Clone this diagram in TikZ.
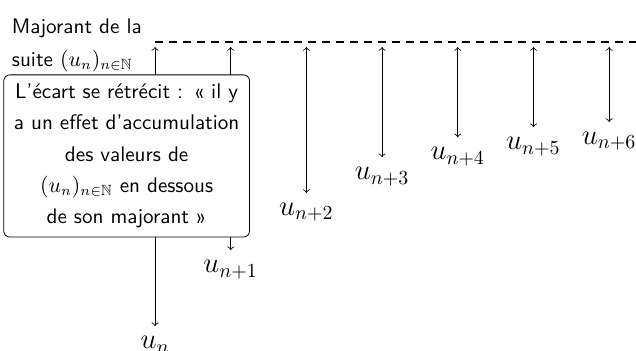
\documentclass[tikz,border=0pt]{standalone}
\usepackage{amsmath,amssymb}
\usepackage{pgf,tikz}
\usetikzlibrary{arrows}

\begin{document}
\begin{tikzpicture}[line cap=round,line join=round,>=to,x=1.0cm,y=1.0cm,
    borne/.style={line width=0.8pt,line cap=butt,dash pattern=on 4pt off 3pt},
    ecart/.style={draw,fill=white,rounded corners=3pt,align=center,
      font=\sffamily\fontsize{10.6}{15.75}\selectfont,
      minimum width=4.32cm,minimum height=2.86cm,text width=4.1cm},
    terme/.style={inner sep=1pt,font=\Large}]
    \useasboundingbox (-2.734,0.741) rectangle (8.484,-5.450);
    \coordinate (m0) at (0,0);
    \coordinate (m1) at (8.484,0);
    \draw [borne] (m0) -- (m1);
    \foreach \k/\d/\lab in {0/5.01/n,1/3.67/n+1,2/2.66/n+2,3/2.03/n+3,4/1.68/n+4,5/1.50/n+5,6/1.41/n+6}
    {
    \coordinate (h\k) at (1.335*\k,-0.09);
    \coordinate (b\k) at (1.335*\k,-\d);
    \draw [<->] (h\k) -- (b\k);
    \node [terme,below=4pt] (u\k) at (b\k) {$u_{\lab}$};
    }
    \node [ecart] (ecart) at (-0.50,-2.01) {L'écart se rétrécit : « il y\\a un effet d'accumulation\\des valeurs de\\$(u_n)_{n\in\mathbb{N}}$ en dessous\\de son majorant »};
    \node [anchor=north west,align=left,inner sep=0pt,text width=3cm,
      font=\sffamily\fontsize{10.6}{16.5}\selectfont] (majorant) at (-2.53,0.42)
      {Majorant de la\\suite $(u_n)_{n\in\mathbb{N}}$};
\end{tikzpicture}
\end{document}
